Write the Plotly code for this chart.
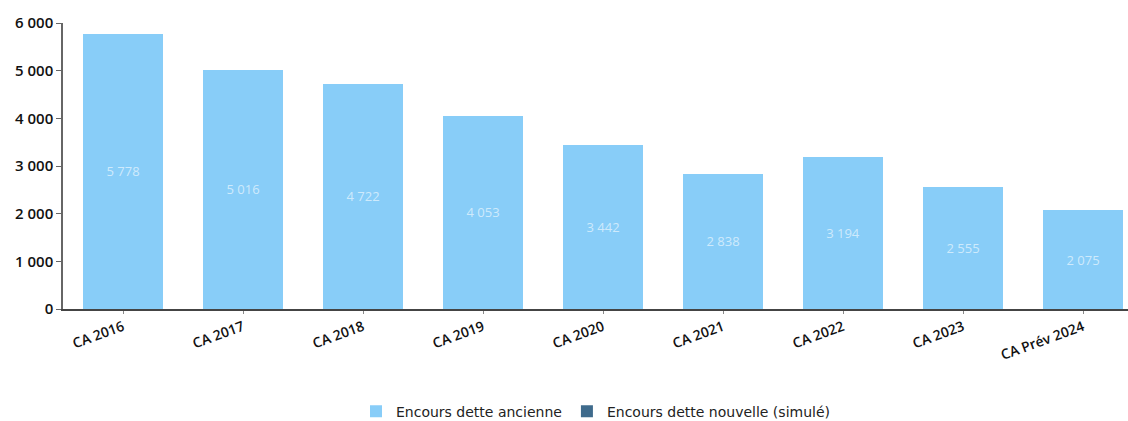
import plotly.graph_objects as go

categories = ["CA 2016", "CA 2017", "CA 2018", "CA 2019", "CA 2020",
              "CA 2021", "CA 2022", "CA 2023", "CA Prév 2024"]
encours_ancienne = [5778, 5016, 4722, 4053, 3442, 2838, 3194, 2555, 2075]
encours_nouvelle = [0, 0, 0, 0, 0, 0, 0, 0, 0]
y_ticks = [0, 1000, 2000, 3000, 4000, 5000, 6000]

fmt = lambda v: f"{v:,}".replace(",", " ")

fig = go.Figure()
fig.add_trace(go.Bar(
    x=categories, y=encours_ancienne, name="Encours dette ancienne",
    marker=dict(color="#88cdf8", line=dict(width=0)),
    text=[fmt(v) for v in encours_ancienne],
    textposition="inside", insidetextanchor="middle",
    textfont=dict(color="rgba(255,255,255,0.6)", size=13, family="Open Sans"),
    textangle=0,
))
fig.add_trace(go.Bar(
    x=categories, y=encours_nouvelle, name="Encours dette nouvelle (simulé)",
    marker=dict(color="#3f6b8c", line=dict(width=0)),
))

fig.update_layout(
    width=1128, height=421,
    barmode="stack", bargap=0.333,
    separators=", ",
    paper_bgcolor="white", plot_bgcolor="white",
    margin=dict(l=63, r=0, t=23, b=112, autoexpand=False),
    font=dict(family="Open Sans", size=13, color="#1a1a1a"),
    showlegend=True,
    legend=dict(orientation="h", x=0.5, xanchor="center",
                yref="container", y=0.06, yanchor="top",
                font=dict(size=14, family="DejaVu Sans", weight=500, color="#222"),
                itemwidth=30, tracegroupgap=0, traceorder="normal"),
)
fig.update_xaxes(
    range=[-0.5, 8.375], tickangle=-20,
    showline=True, linecolor="#444", linewidth=1.5,
    ticks="outside", ticklen=3, tickcolor="#888",
    tickfont=dict(size=14, family="Open Sans", weight=600, color="#111"),
    showgrid=False,
)
fig.update_yaxes(
    range=[0, 6000], tickvals=y_ticks, ticktext=[fmt(v) for v in y_ticks],
    showline=True, linecolor="#666", linewidth=1.5,
    ticks="outside", ticklen=5, tickcolor="#666",
    tickfont=dict(size=15, family="Open Sans", weight=600, color="#111"),
    showgrid=False, zeroline=False,
)

fig.write_html("out.html")
